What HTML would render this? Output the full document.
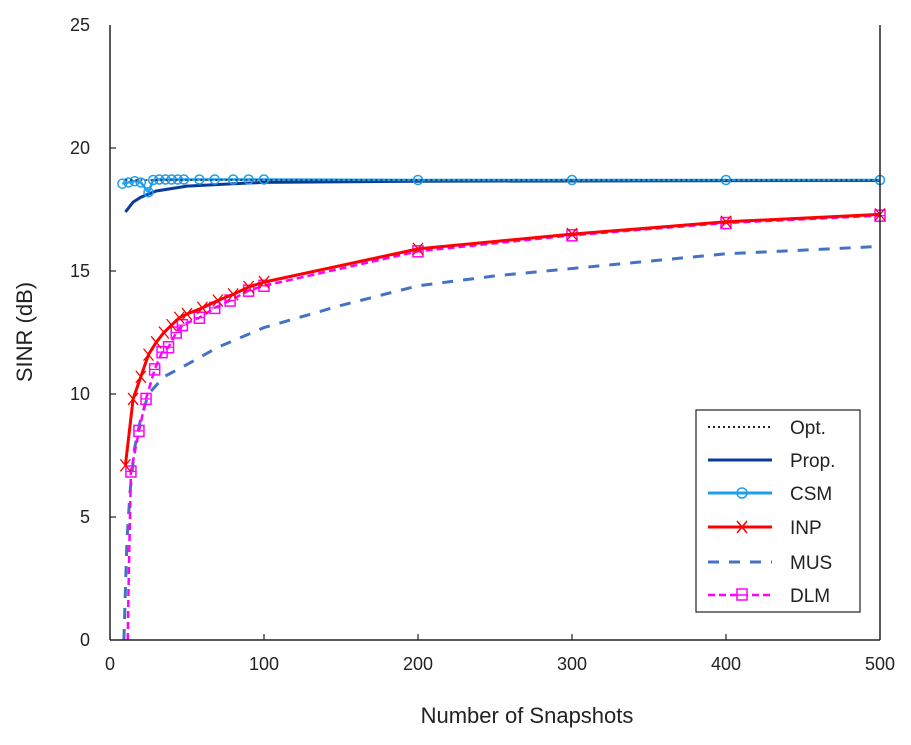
<!DOCTYPE html>
<html><head><meta charset="utf-8"><style>
html,body{margin:0;padding:0;background:#fff;}
svg text{font-family:"Liberation Sans",Arial,sans-serif;fill:#222;}
</style></head><body>
<svg id="s" width="911" height="740" xmlns="http://www.w3.org/2000/svg">
<rect x="0" y="0" width="911" height="740" fill="#fff"/>
<g id="plot"></g>
<line x1="110" y1="25" x2="110" y2="640" stroke="#222" stroke-width="1.5"/>
<line x1="110" y1="640" x2="880" y2="640" stroke="#222" stroke-width="1.5"/>
<line x1="880" y1="25" x2="880" y2="640" stroke="#222" stroke-width="1.5"/>
<g font-size="18" text-anchor="end">
<text x="90" y="646">0</text><text x="90" y="523">5</text><text x="90" y="400">10</text>
<text x="90" y="277">15</text><text x="90" y="154">20</text><text x="90" y="31">25</text>
</g>
<g stroke="#222" stroke-width="1.2">
<line x1="110" y1="517" x2="116" y2="517"/><line x1="110" y1="394" x2="116" y2="394"/>
<line x1="110" y1="271" x2="116" y2="271"/><line x1="110" y1="148" x2="116" y2="148"/>
<line x1="264" y1="640" x2="264" y2="634"/><line x1="418" y1="640" x2="418" y2="634"/>
<line x1="572" y1="640" x2="572" y2="634"/><line x1="726" y1="640" x2="726" y2="634"/>
</g>
<g font-size="18" text-anchor="middle">
<text x="110" y="670">0</text><text x="264" y="670">100</text><text x="418" y="670">200</text>
<text x="572" y="670">300</text><text x="726" y="670">400</text><text x="880" y="670">500</text>
</g>
<text x="527" y="723" font-size="22" text-anchor="middle">Number of Snapshots</text>
<text x="32" y="332" font-size="22" text-anchor="middle" transform="rotate(-90 32 332)">SINR (dB)</text>
<g>
<rect x="696" y="410" width="164" height="202" fill="#fff" stroke="#222" stroke-width="1.2"/>
<line x1="708" y1="427" x2="772" y2="427" stroke="#222" stroke-width="2" stroke-dasharray="2,3"/>
<line x1="708" y1="460" x2="772" y2="460" stroke="#0a3a9a" stroke-width="3"/>
<line x1="708" y1="493" x2="772" y2="493" stroke="#1e9ef0" stroke-width="3"/>
<circle cx="742" cy="493" r="5" fill="none" stroke="#1e9ef0" stroke-width="1.5"/>
<line x1="708" y1="527" x2="772" y2="527" stroke="#f00" stroke-width="3"/>
<path d="M737 521 L747 533 M747 521 L737 533" stroke="#f00" stroke-width="1.5"/>
<line x1="708" y1="562" x2="772" y2="562" stroke="#4472c4" stroke-width="3" stroke-dasharray="11,10"/>
<line x1="708" y1="595" x2="772" y2="595" stroke="#f0f" stroke-width="2.5" stroke-dasharray="7,4"/>
<rect x="737" y="589" width="10" height="11" fill="#fff" stroke="#f0f" stroke-width="1.5"/>
<line x1="737" y1="595" x2="747" y2="595" stroke="#f0f" stroke-width="1.5"/>
<g font-size="19">
<text x="790" y="434">Opt.</text><text x="790" y="467">Prop.</text><text x="790" y="500">CSM</text>
<text x="790" y="534">INP</text><text x="790" y="569">MUS</text><text x="790" y="602">DLM</text>
</g>
</g>
</svg>
<script>
var NS="http://www.w3.org/2000/svg",g=document.getElementById("plot");
function X(n){return 110+n*1.54}function Y(d){return 640-d*24.6}
function el(t,a){var e=document.createElementNS(NS,t);for(var k in a)e.setAttribute(k,a[k]);g.appendChild(e);return e}
function path(pts,st){var d=pts.map(function(p,i){return (i?"L":"M")+X(p[0]).toFixed(1)+" "+Y(p[1]).toFixed(1)}).join(" ");st.d=d;st.fill="none";el("path",st)}
var mus=[[9,0],[10,2],[11,4],[13,6],[16,7.8],[20,9],[25,10],[35,10.7],[50,11.2],[70,11.9],[100,12.7],[150,13.6],[200,14.4],[250,14.8],[300,15.1],[400,15.7],[500,16.0]];
path(mus,{stroke:"#4472c4","stroke-width":3,"stroke-dasharray":"11,10"});
var dlm=[[11.5,0],[12,2],[13.6,6.85],[18.8,8.5],[23.4,9.8],[29,11.0],[33.8,11.7],[38,11.9],[43,12.5],[47,12.8],[58,13.1],[68,13.5],[78,13.8],[90,14.2],[100,14.4],[200,15.8],[300,16.45],[400,16.95],[500,17.25]];
path(dlm,{stroke:"#f0f","stroke-width":2.5,"stroke-dasharray":"7,4"});
dlm.slice(2).forEach(function(p){var x=X(p[0]),y=Y(p[1]);el("rect",{x:x-5,y:y-5.5,width:10,height:11,fill:"none",stroke:"#f0f","stroke-width":1.5});el("line",{x1:x-5,y1:y,x2:x+5,y2:y,stroke:"#f0f","stroke-width":1.2})});
var inp=[[10,7.1],[15,9.8],[20,10.7],[25,11.6],[30,12.1],[35,12.5],[40,12.8],[45,13.1],[50,13.25],[60,13.5],[70,13.8],[80,14.05],[90,14.35],[100,14.55],[200,15.9],[300,16.5],[400,17.0],[500,17.3]];
path(inp,{stroke:"#f00","stroke-width":3});
inp.forEach(function(p){var x=X(p[0]),y=Y(p[1]);el("path",{d:"M"+(x-5)+" "+(y-6)+"L"+(x+5)+" "+(y+6)+"M"+(x+5)+" "+(y-6)+"L"+(x-5)+" "+(y+6),stroke:"#f00","stroke-width":1.3,fill:"none"})});
var prop=[[10,17.4],[15,17.8],[20,18.0],[30,18.25],[50,18.45],[80,18.55],[100,18.6],[200,18.65],[500,18.68]];
path(prop,{stroke:"#0a3a9a","stroke-width":3});
var csm=[[8,18.55],[12,18.6],[16,18.65],[20,18.6],[25,18.2],[28,18.7],[32,18.72],[36,18.72],[40,18.72],[44,18.72],[48,18.72],[58,18.72],[68,18.72],[80,18.72],[90,18.72],[100,18.72],[200,18.7],[300,18.7],[400,18.7],[500,18.7]];
path(csm,{stroke:"#1e9ef0","stroke-width":2.5});
csm.forEach(function(p){el("circle",{cx:X(p[0]),cy:Y(p[1]),r:4.5,fill:"none",stroke:"#1e9ef0","stroke-width":1.5})});
path([[10,18.7],[500,18.7]],{stroke:"#222","stroke-width":1.5,"stroke-dasharray":"2,3"});
</script>
</body></html>
